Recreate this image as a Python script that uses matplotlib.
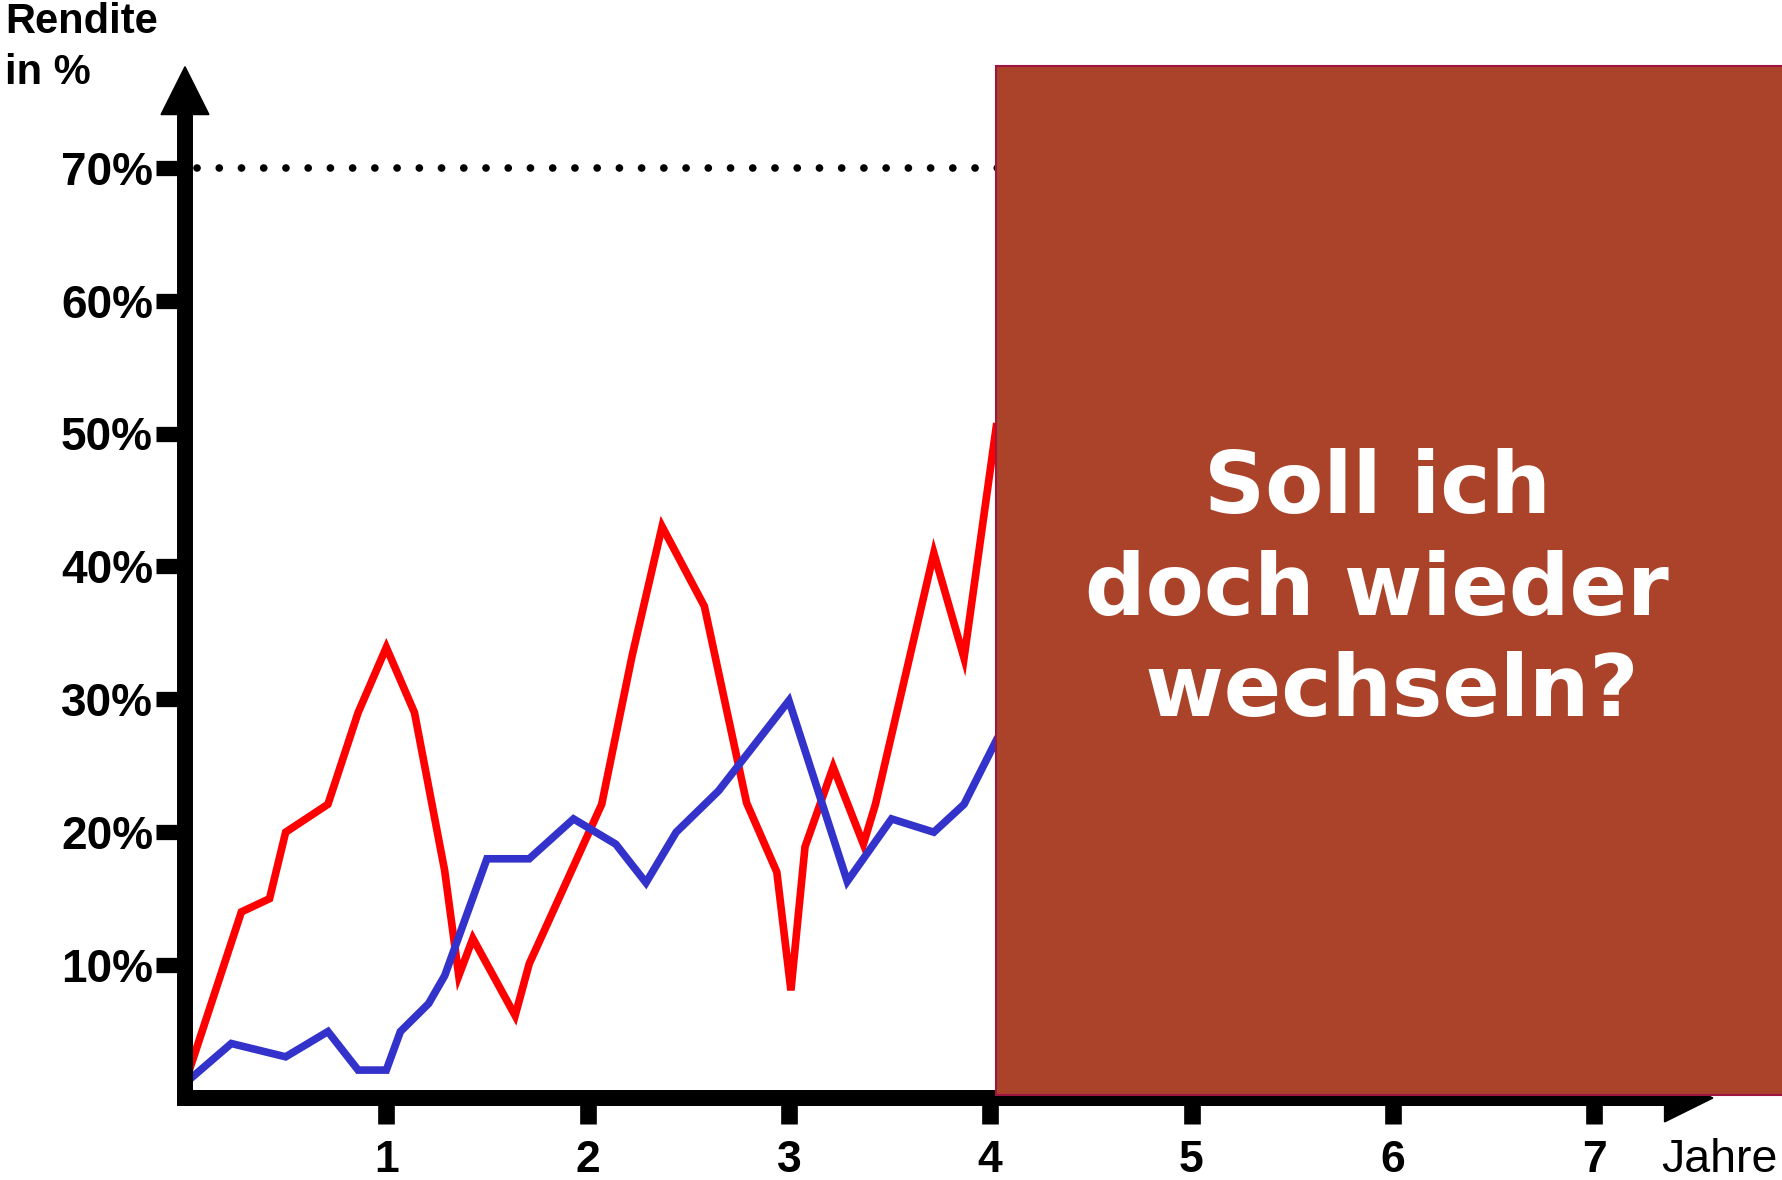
import matplotlib
matplotlib.use("Agg")
import matplotlib.pyplot as plt
from matplotlib.patches import Polygon, Rectangle

plt.rcParams['font.family'] = ['Liberation Sans', 'DejaVu Sans']

# values (x in years, y in percent)
red_x = [0.0, 0.28, 0.42, 0.50, 0.71, 0.86, 1.0, 1.14, 1.29, 1.36, 1.43, 1.64, 1.71,
         2.07, 2.22, 2.37, 2.58, 2.79, 2.94, 3.01, 3.08, 3.22, 3.37, 3.43, 3.72, 3.87, 4.03]
red_y = [1.1, 14.0, 15.0, 20.0, 22.1, 29.0, 33.9, 29.0, 17.1, 9.2, 12.0, 6.2, 10.1,
         22.1, 33.2, 43.0, 37.0, 22.2, 17.0, 8.1, 18.9, 24.9, 19.1, 22.1, 41.0, 33.1, 50.5]

blue_x = [0.0, 0.23, 0.50, 0.71, 0.86, 1.0, 1.07, 1.21, 1.29, 1.50, 1.71, 1.93, 2.14,
          2.29, 2.44, 2.65, 3.0, 3.29, 3.51, 3.72, 3.87, 4.03]
blue_y = [1.1, 4.1, 3.1, 5.0, 2.1, 2.1, 5.0, 7.1, 9.2, 18.0, 18.0, 21.0, 19.1,
          16.2, 20.0, 23.1, 29.9, 16.3, 21.0, 20.0, 22.1, 26.9]

y_ticks = [10, 20, 30, 40, 50, 60, 70]
y_labels = ["10%", "20%", "30%", "40%", "50%", "60%", "70%"]
x_ticks = [1, 2, 3, 4, 5, 6, 7]
x_labels = ["1", "2", "3", "4", "5", "6", "7"]
target = 70
question = "Soll ich\ndoch wieder\n wechseln?"

fig = plt.figure(figsize=(17.82, 11.8), dpi=100)
ax = fig.add_axes([185/1782, 82/1180, 1 - 185/1782, 1098/1180])
ax.set_xlim(0, 1597/201.3)
ax.set_ylim(0, 1098/13.29)

ax.plot(red_x, red_y, color="#ff0000", lw=5.5, zorder=2, solid_joinstyle="miter")
ax.plot(blue_x, blue_y, color="#3333cc", lw=5.5, zorder=2, solid_joinstyle="miter")
ax.plot([0.06, 5], [target, target], color="black", lw=5.5, linestyle=(0, (0.01, 2.9)),
        dash_capstyle="round", zorder=2)

# axes with arrowheads
for s in ["top", "right"]:
    ax.spines[s].set_visible(False)
ax.spines["left"].set_linewidth(11.5)
ax.spines["bottom"].set_linewidth(11.5)
ax.spines["left"].set_bounds(0, 74.5)
ax.spines["bottom"].set_bounds(0, 7.4)
ax.add_patch(Polygon([[-0.119, 74.0], [0.119, 74.0], [0.0, 77.6]], closed=True,
                     color="black", clip_on=False, zorder=3))
ax.add_patch(Polygon([[7.35, -1.8], [7.35, 1.8], [7.59, 0.0]], closed=True,
                     color="black", clip_on=False, zorder=2.5))

ax.set_yticks(y_ticks)
ax.set_yticklabels(y_labels, fontsize=33, fontweight="bold")
ax.set_xticks(x_ticks)
ax.set_xticklabels(x_labels, fontsize=32, fontweight="bold")
ax.tick_params(axis="y", length=21, width=11, pad=2, direction="out")
ax.tick_params(axis="x", length=19, width=12, pad=11, direction="out")
ax.patch.set_alpha(0)

# overlay box with the question
ax.add_patch(Rectangle((4.03, 0.23), 5, 77.4, facecolor="#aa4329", edgecolor="#9e1442",
                       lw=1.5, clip_on=False, zorder=4))
fig.text(1377/1782, 1 - 591/1180, question, color="white", fontsize=61,
         fontweight="bold", family="DejaVu Sans", ha="center", va="center",
         multialignment="center", linespacing=1.29, zorder=5)

fig.text(5/1782, 1 - 2/1180, "Rendite\nin %", fontsize=30, fontweight="bold",
         ha="left", va="top", linespacing=1.35)
fig.text(1661/1782, 1 - 1172/1180, "Jahre", fontsize=33.5, ha="left", va="baseline")

fig.savefig("out.png", dpi=100)
